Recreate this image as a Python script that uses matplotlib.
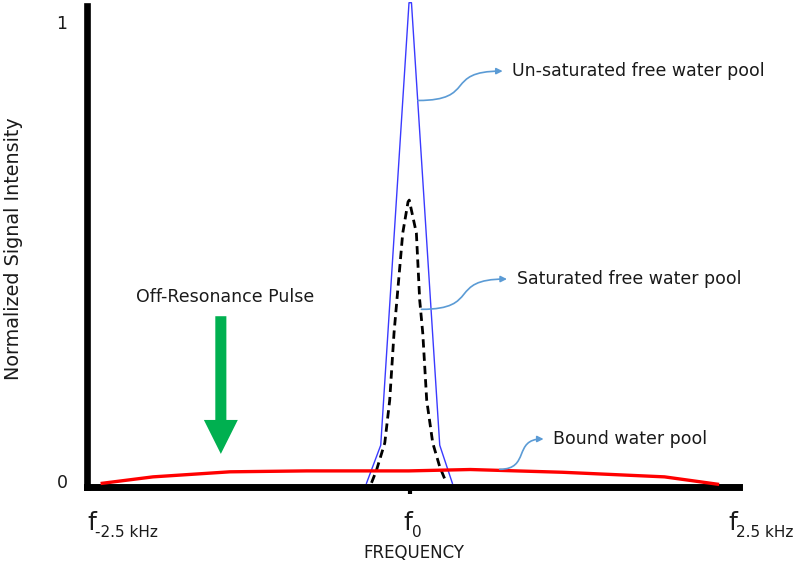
import matplotlib
matplotlib.use("Agg")
import matplotlib.pyplot as plt
from matplotlib.path import Path
from matplotlib.patches import FancyArrowPatch

# frequency offset (kHz) vs normalized signal
unsat_freq = [-0.352, -0.236, -0.006, 0.014, 0.244, 0.347]
unsat_sig = [-0.005, 0.078, 1.042, 1.042, 0.078, -0.005]

sat_freq = [-0.311, -0.27, -0.203, -0.163, -0.128, -0.081, -0.057, -0.014,
            -0.004, 0.054, 0.081, 0.106, 0.138, 0.187, 0.244, 0.298]
sat_sig = [-0.004, 0.024, 0.083, 0.176, 0.322, 0.466, 0.540, 0.608,
           0.612, 0.540, 0.394, 0.322, 0.176, 0.083, 0.031, -0.004]

bound_freq = [-2.502, -2.089, -1.463, -0.837, -0.008, 0.493, 1.244, 2.073, 2.504]
bound_sig = [-0.005, 0.009, 0.020, 0.022, 0.022, 0.025, 0.019, 0.009, -0.007]

# (start on curve, arrow tip, label)
callouts = [
    ((0.067, 0.829), (0.756, 0.893), "Un-saturated free water pool"),
    ((0.095, 0.374), (0.791, 0.440), "Saturated free water pool"),
    ((0.732, 0.0255), (1.089, 0.0915), "Bound water pool"),
]

# x axis labels: position of the "f" (kHz) and its subscript
xlab_pos = [-2.626, -0.05, 2.59]
xlab_sub = ["-2.5 kHz", "0", "2.5 kHz"]

txt = '#1a1a1a'
plt.rcParams['font.family'] = ['DejaVu Sans']

fig = plt.figure(figsize=(8, 5.7), dpi=100)
ax = fig.add_axes([0.10875, 0.1456, 0.815, 0.844])
ax.set_xlim(-2.626, 2.679)
ax.set_ylim(-0.0131, 1.035)

ax.plot(unsat_freq, unsat_sig, color='#3a3aff', lw=1.0, clip_on=False, zorder=3)
ax.plot(sat_freq, sat_sig, color='black', lw=2.0, dashes=(3, 1.8), zorder=3)
ax.plot(bound_freq, bound_sig, color='#ff0000', lw=2.4, zorder=4)

# callout connectors: little S-shaped curves
for (x0, y0), (x1, y1), label in callouts:
    dx = x1 - x0
    verts = [(x0, y0), (x0 + 0.7 * dx, y0), (x0 + 0.3 * dx, y1), (x1, y1)]
    codes = [Path.MOVETO, Path.CURVE4, Path.CURVE4, Path.CURVE4]
    arr = FancyArrowPatch(path=Path(verts, codes), arrowstyle='-|>',
                          mutation_scale=9, color='#5b9bd5', lw=1.2, zorder=5)
    ax.add_patch(arr)
    ax.text(x1 + 0.08, y1, label, fontsize=12.5, color=txt,
            ha='left', va='center')

# off-resonance pulse arrow
ax.arrow(-1.537, 0.359, 0, -0.226, width=0.09, head_width=0.276,
         head_length=0.074, length_includes_head=False, color='#00b050', lw=0)
ax.text(-1.50, 0.401, "Off-Resonance Pulse", fontsize=12.5, color=txt,
        ha='center', va='center')

# axes styling
for side in ['top', 'right']:
    ax.spines[side].set_visible(False)
ax.spines['left'].set_linewidth(4.8)
ax.spines['bottom'].set_linewidth(5.0)

ax.set_yticks([0, 1])
ax.set_yticklabels(['0', '1'], fontsize=12.5, color=txt)
ax.tick_params(axis='y', length=0, pad=14)

ax.set_xticks([0])
ax.set_xticklabels([''])
ax.tick_params(axis='x', length=5, width=3, direction='out')

for xp, sub in zip(xlab_pos, xlab_sub):
    ax.annotate('f', xy=(xp, 0), xycoords=('data', 'axes fraction'),
                xytext=(0, -31), textcoords='offset points', fontsize=18,
                color=txt, ha='left', va='baseline', annotation_clip=False)
    ax.annotate(sub, xy=(xp, 0), xycoords=('data', 'axes fraction'),
                xytext=(6, -36), textcoords='offset points', fontsize=11,
                color=txt, ha='left', va='baseline', annotation_clip=False)

fig.text(0.0165, 0.563, "Normalized Signal Intensity", rotation=90,
         fontsize=13.8, color=txt, ha='center', va='center')
fig.text(0.5175, 0.03, "FREQUENCY", fontsize=12, color=txt,
         ha='center', va='center')

fig.savefig("out.png", dpi=100)
